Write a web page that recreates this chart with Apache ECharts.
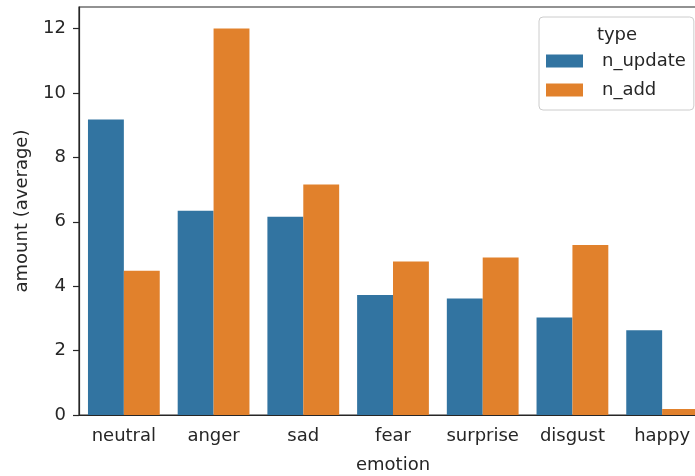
<!DOCTYPE html>
<html>
<head>
<meta charset="utf-8">
<script src="https://cdn.jsdelivr.net/npm/echarts@6/dist/echarts.min.js"></script>
<style>
html, body { margin: 0; padding: 0; background: #fff; }
#chart { width: 695px; height: 476px; }
</style>
</head>
<body>
<div id="chart"></div>
<script>
// data
var emotions = ['neutral', 'anger', 'sad', 'fear', 'surprise', 'disgust', 'happy'];
var nUpdate = [9.18, 6.34, 6.16, 3.73, 3.62, 3.03, 2.63];
var nAdd = [4.48, 12.0, 7.16, 4.77, 4.89, 5.28, 0.19];
var yTicks = [0, 2, 4, 6, 8, 10, 12];

var font = 'DejaVu Sans';
var fs = 18;
var textColor = '#262626';

var chart = echarts.init(document.getElementById('chart'));

var option = {
    animation: false,
    color: ['#3274a1', '#e1812c'],
    textStyle: { fontFamily: font },
    grid: {
        left: 79,
        right: -12,
        top: 7,
        bottom: 61,
        outerBoundsMode: 'none',
        containLabel: false,
        show: true,
        borderColor: textColor,
        borderWidth: 1.2
    },
    legend: {
        orient: 'vertical',
        left: 539,
        top: 17,
        padding: [33, 8, 9, 7],
        itemWidth: 37,
        itemHeight: 13,
        itemGap: 7,
        borderColor: '#cccccc',
        borderWidth: 1,
        borderRadius: 4,
        backgroundColor: 'rgba(255,255,255,0.8)',
        icon: 'rect',
        textStyle: {
            fontFamily: font,
            fontSize: fs,
            color: textColor,
            lineHeight: 22,
            padding: [0, 0, 0, 14]
        },
        data: ['n_update', 'n_add']
    },
    graphic: [{
        type: 'text',
        x: 617,
        y: 35,
        z: 100,
        style: {
            text: 'type',
            fontFamily: font,
            fontSize: fs,
            fill: textColor,
            textAlign: 'center',
            textVerticalAlign: 'middle'
        }
    }],
    xAxis: {
        type: 'category',
        data: emotions,
        name: 'emotion',
        nameLocation: 'middle',
        nameGap: 41,
        nameTextStyle: { fontFamily: font, fontSize: fs, color: textColor },
        axisLine: { lineStyle: { color: textColor, width: 1.2 } },
        axisTick: { alignWithLabel: true, length: 6, lineStyle: { color: textColor, width: 1.2 } },
        axisLabel: { margin: 12, fontFamily: font, fontSize: fs, color: textColor, interval: 0 },
        splitLine: { show: false }
    },
    yAxis: {
        type: 'value',
        min: 0,
        max: 12.67,
        interval: 2,
        name: 'amount (average)',
        nameLocation: 'middle',
        nameGap: 48,
        nameRotate: 90,
        nameTextStyle: { fontFamily: font, fontSize: fs, color: textColor },
        axisLine: { show: true, lineStyle: { color: textColor, width: 1.2 } },
        axisTick: { show: true, length: 6, customValues: yTicks, lineStyle: { color: textColor, width: 1.2 } },
        axisLabel: { margin: 13, fontFamily: font, fontSize: fs, color: textColor, customValues: yTicks },
        splitLine: { show: false }
    },
    series: [
        {
            name: 'n_update',
            type: 'bar',
            data: nUpdate,
            barGap: '0%',
            barCategoryGap: '20%'
        },
        {
            name: 'n_add',
            type: 'bar',
            data: nAdd,
            barGap: '0%',
            barCategoryGap: '20%'
        }
    ]
};

chart.setOption(option);
</script>
</body>
</html>
